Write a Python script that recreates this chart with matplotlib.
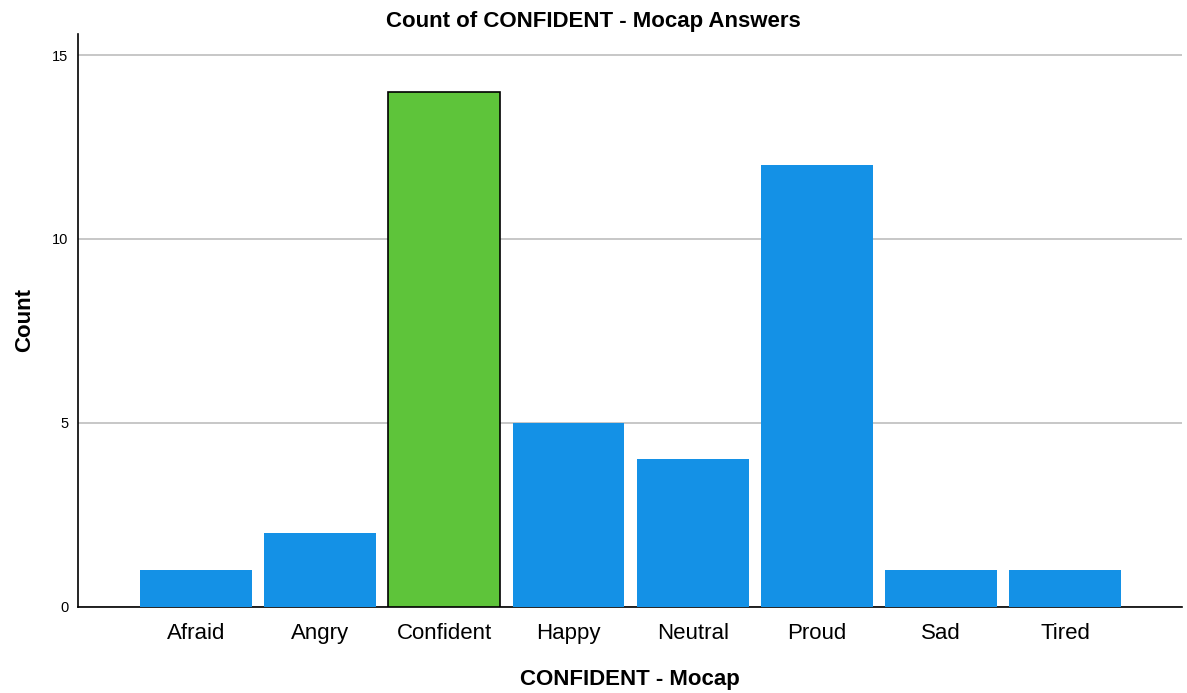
import matplotlib.pyplot as plt

plt.rcParams['font.family'] = ['Liberation Sans', 'DejaVu Sans']

categories = ["Afraid", "Angry", "Confident", "Happy", "Neutral", "Proud", "Sad", "Tired"]
counts = [1, 2, 14, 5, 4, 12, 1, 1]
highlight = "Confident"
y_ticks = [0, 5, 10, 15]

blue = "#1491e6"
green = "#5ec43a"

fig = plt.figure(figsize=(11.87, 6.93), dpi=100)
ax = fig.add_axes([0.0657, 0.1248, 0.930, 0.826])

x = range(len(categories))
colors = [green if c == highlight else blue for c in categories]
edges = ["black" if c == highlight else "none" for c in categories]
ax.bar(x, counts, width=0.9, color=colors, edgecolor=edges, linewidth=1.2, zorder=3)

ax.set_xlim(-0.95, 7.94)
ax.set_ylim(0, 15.57)
ax.set_yticks(y_ticks)
ax.set_xticks(list(x))
ax.set_xticklabels(categories, fontsize=16)
ax.tick_params(axis='y', labelsize=10.5, length=0, pad=7)
ax.tick_params(axis='x', length=0, pad=12)
ax.grid(axis='y', color='#bdbdbd', linewidth=1.2, zorder=0)

for side in ['top', 'right']:
    ax.spines[side].set_visible(False)
ax.spines['left'].set_linewidth(1.2)
ax.spines['bottom'].set_linewidth(1.2)

# title sits centred on the figure, not the axes
ax.set_title("Count of CONFIDENT - Mocap Answers", fontsize=16, fontweight='bold',
             x=0.467, pad=5)
ax.set_xlabel("CONFIDENT - Mocap", fontsize=16, fontweight='bold', labelpad=18)
ax.set_ylabel("Count", fontsize=16, fontweight='bold', labelpad=12)

fig.savefig("out.png", dpi=100)
